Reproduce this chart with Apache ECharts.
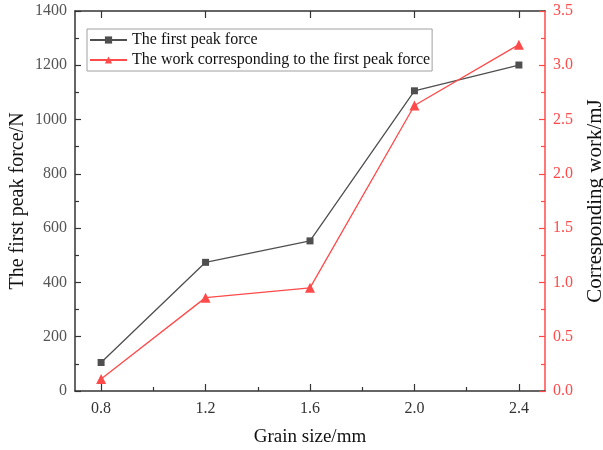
<!DOCTYPE html>
<html><head><meta charset="utf-8">
<script src="https://cdn.jsdelivr.net/npm/echarts@6/dist/echarts.min.js"></script>
<style>html,body{margin:0;padding:0;background:#fff}#c{width:603px;height:450px}</style>
</head><body><div id="c"></div>
<script>
const grainSizes = [0.8, 1.2, 1.6, 2.0, 2.4];
const peakForce = [105, 474, 553, 1106, 1201];
const peakWork = [0.11, 0.86, 0.95, 2.63, 3.19];
const xMajorTicks = [0.8, 1.2, 1.6, 2.0, 2.4];
const xMinorTicks = [1.0, 1.4, 1.8, 2.2];
const seriesNames = ['The first peak force', 'The work corresponding to the first peak force'];

const FONT = '"Liberation Serif", "Times New Roman", serif';
const RED = '#ff4a4a';
const DARK = '#4f4f4f';
const chart = echarts.init(document.getElementById('c'));
const baseX = { type: 'value', min: 0.7, max: 2.5, splitLine: {show: false} };
chart.setOption({
  animation: false,
  backgroundColor: '#fff',
  grid: { left: 75, right: 58, top: 11, bottom: 59, containLabel: false, outerBoundsMode: 'none' },
  legend: {
    orient: 'vertical', left: 87, top: 29, padding: [3, 2, 3, 2], itemGap: 4,
    itemWidth: 37, itemHeight: 9,
    borderColor: '#a0a0a0', borderWidth: 1,
    textStyle: { fontFamily: FONT, fontSize: 16, color: '#111', lineHeight: 16 },
    data: seriesNames
  },
  xAxis: [
    Object.assign({}, baseX, {
      position: 'bottom',
      name: 'Grain size/mm', nameLocation: 'middle', nameGap: 37,
      nameTextStyle: { fontFamily: FONT, fontSize: 19, color: '#111' },
      axisLine: { show: true, lineStyle: { color: '#333', width: 1.5 } },
      axisTick: { show: true, inside: true, length: 7, customValues: xMajorTicks, lineStyle: { color: '#333', width: 1.2 } },
      axisLabel: { customValues: xMajorTicks, fontFamily: FONT, fontSize: 16, color: '#333', margin: 10,
        formatter: v => v.toFixed(1) }
    }),
    Object.assign({}, baseX, {
      position: 'bottom', offset: 0,
      axisLine: { show: false },
      axisTick: { show: true, inside: true, length: 4, customValues: xMinorTicks, lineStyle: { color: '#333', width: 1.2 } },
      axisLabel: { show: false }
    }),
    Object.assign({}, baseX, {
      position: 'top', offset: 0,
      axisLine: { show: true, lineStyle: { color: '#333', width: 1.5 } },
      axisTick: { show: true, inside: true, length: 7, customValues: xMajorTicks, lineStyle: { color: '#333', width: 1.2 } },
      axisLabel: { show: false }
    })
  ],
  yAxis: [
    {
      type: 'value', position: 'left', min: 0, max: 1400, interval: 200,
      name: 'The first peak force/N', nameLocation: 'middle', nameGap: 47, nameMoveOverlap: false,
      nameTextStyle: { fontFamily: FONT, fontSize: 20, color: '#111' },
      splitLine: { show: false },
      axisLine: { show: true, lineStyle: { color: '#333', width: 1.5 } },
      axisTick: { show: true, inside: true, length: 6, lineStyle: { color: '#333', width: 1.2 } },
      minorTick: { show: true, splitNumber: 2, length: 4, lineStyle: { color: '#333', width: 1.2 } },
      axisLabel: { fontFamily: FONT, fontSize: 16, color: '#555', margin: 8, formatter: v => String(v) }
    },
    {
      type: 'value', position: 'right', min: 0, max: 3.5, interval: 0.5,
      name: 'Corresponding work/mJ', nameLocation: 'middle', nameGap: 40, nameRotate: 90,
      nameTextStyle: { fontFamily: FONT, fontSize: 21, color: '#111' },
      splitLine: { show: false },
      axisLine: { show: true, lineStyle: { color: RED, width: 1.5 } },
      axisTick: { show: true, inside: true, length: 6, lineStyle: { color: RED, width: 1.2 } },
      minorTick: { show: true, splitNumber: 2, length: 4, lineStyle: { color: RED, width: 1.2 } },
      axisLabel: { fontFamily: FONT, fontSize: 16, color: RED, margin: 8, formatter: v => v.toFixed(1) }
    }
  ],
  series: [
    {
      name: seriesNames[0], type: 'line', xAxisIndex: 0, yAxisIndex: 0,
      data: grainSizes.map((x, i) => [x, peakForce[i]]),
      symbol: 'rect', symbolSize: 7,
      lineStyle: { color: DARK, width: 1.3 }, itemStyle: { color: DARK }
    },
    {
      name: seriesNames[1], type: 'line', xAxisIndex: 0, yAxisIndex: 1,
      data: grainSizes.map((x, i) => [x, peakWork[i]]),
      symbol: 'triangle', symbolSize: 10,
      lineStyle: { color: RED, width: 1.3 }, itemStyle: { color: RED }
    }
  ]
});
</script></body></html>
